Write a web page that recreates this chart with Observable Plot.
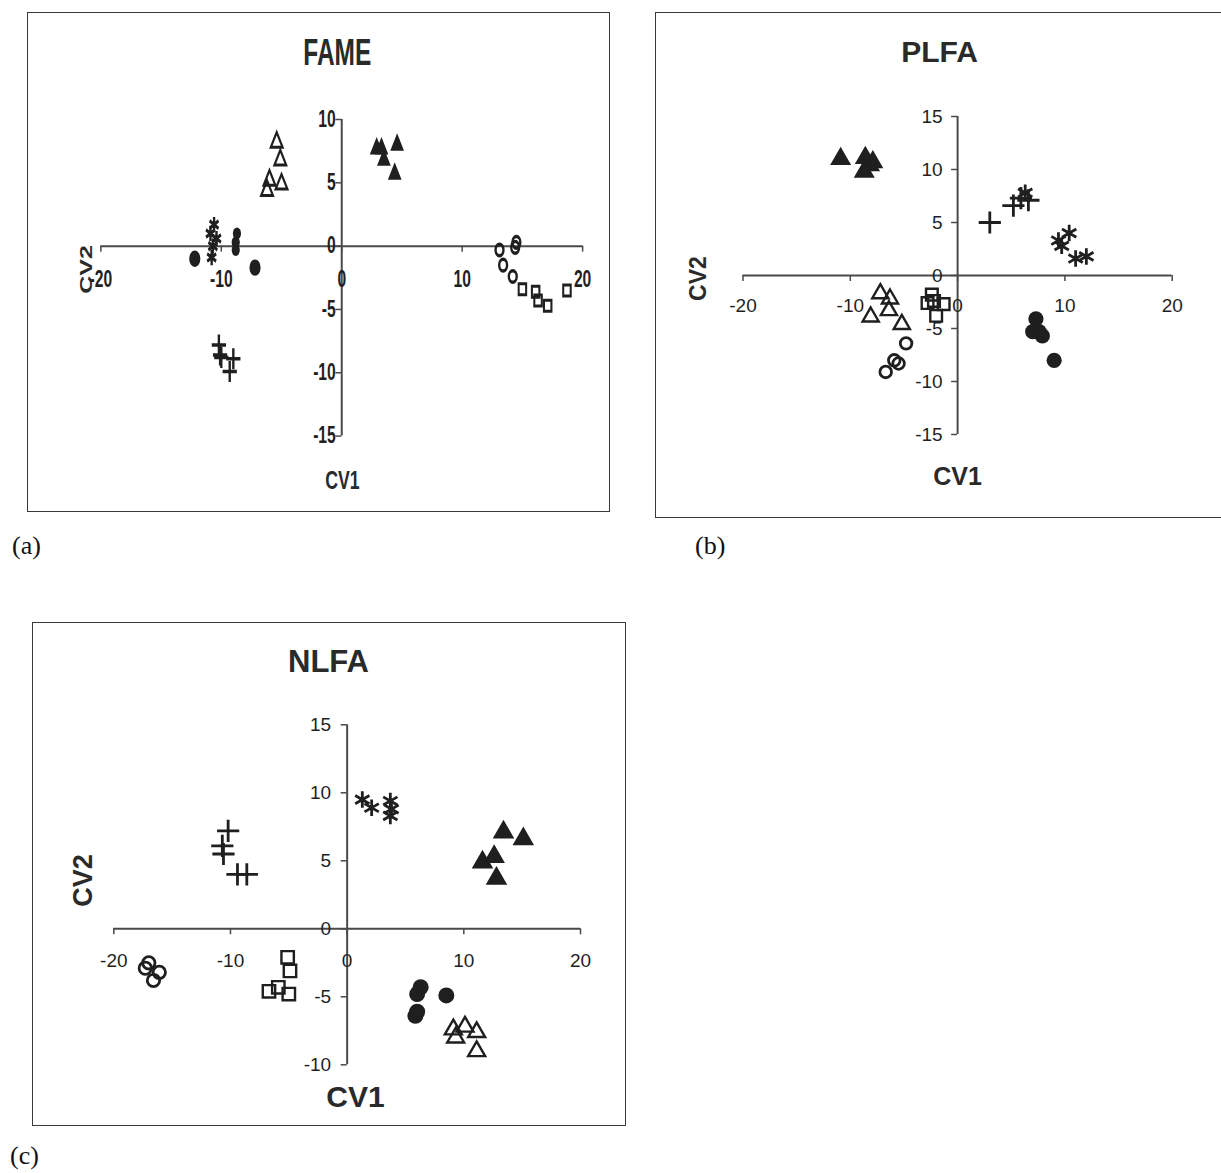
<!DOCTYPE html>
<html>
<head>
<meta charset="utf-8">
<script src="https://cdn.jsdelivr.net/npm/d3@7"></script>
<script src="https://cdn.jsdelivr.net/npm/@observablehq/plot@0.6"></script>
<style>
  html, body { margin: 0; padding: 0; background: #fff; }
  body { position: relative; width: 1221px; height: 1173px; overflow: hidden; }
  .tag { position: absolute; font-family: "Liberation Serif", "Times New Roman", serif; font-size: 26px; color: #111; line-height: 1; }
</style>
</head>
<body>
<div class="tag" style="left:12px;top:533px">(a)</div>
<div class="tag" style="left:695px;top:533px">(b)</div>
<div class="tag" style="left:10px;top:1143px">(c)</div>
<script>
// Canonical variate scores (CV1, CV2) per treatment group.

// ---- FAME ----
const fameOpenTri    = [[-5.4, 8.2], [-5.1, 6.8], [-6.0, 5.2], [-5.0, 4.9], [-6.2, 4.4]];
const fameFilledTri  = [[2.9, 7.7], [3.3, 7.7], [3.5, 6.8], [4.6, 8.0], [4.4, 5.7]];
const fameStar       = [[-10.6, 1.7], [-10.9, 1.0], [-10.4, 0.6], [-10.7, 0.0], [-10.8, -0.9]];
const fameFilledCirc = [[-12.2, -1.0], [-7.2, -1.7], [-8.7, 1.0], [-8.8, 0.3], [-8.8, -0.3]];
const famePlus       = [[-10.2, -7.8], [-10.1, -8.6], [-10.0, -8.8], [-9.0, -8.9], [-9.3, -9.9]];
const fameOpenCirc   = [[13.1, -0.3], [14.5, 0.3], [14.4, -0.1], [13.4, -1.5], [14.2, -2.4]];
const fameOpenSq     = [[15.0, -3.4], [16.1, -3.6], [16.3, -4.3], [17.1, -4.7], [18.7, -3.5]];

// ---- PLFA ----
const plfaFilledTri  = [[-10.9, 11.0], [-8.6, 11.1], [-7.9, 10.7], [-8.7, 9.8], [-8.2, 10.4]];
const plfaOpenTri    = [[-7.2, -1.7], [-6.3, -2.2], [-6.4, -3.3], [-8.1, -3.9], [-5.2, -4.6]];
const plfaOpenCirc   = [[-4.8, -6.4], [-5.9, -8.0], [-5.5, -8.3], [-6.7, -9.1]];
const plfaFilledCirc = [[7.3, -4.1], [7.0, -5.3], [7.9, -5.7], [7.6, -5.3], [9.0, -8.0]];
const plfaOpenSq     = [[-2.4, -1.8], [-2.8, -2.6], [-1.3, -2.7], [-2.0, -3.8], [-2.2, -2.4]];
const plfaPlus       = [[3.0, 5.0], [5.2, 6.6], [5.9, 7.3], [6.6, 7.1]];
const plfaStar       = [[6.3, 7.8], [9.4, 3.3], [10.4, 4.0], [9.7, 2.8], [11.0, 1.6], [12.0, 1.8]];

// ---- NLFA ----
const nlfaPlus       = [[-10.2, 7.2], [-10.7, 6.1], [-10.6, 5.5], [-9.4, 4.0], [-8.6, 4.0]];
const nlfaOpenCirc   = [[-17.0, -2.5], [-17.3, -2.9], [-16.1, -3.2], [-16.6, -3.8]];
const nlfaOpenSq     = [[-5.1, -2.1], [-4.9, -3.1], [-6.7, -4.6], [-5.9, -4.3], [-5.0, -4.8]];
const nlfaStar       = [[1.3, 9.5], [2.1, 8.9], [3.7, 9.4], [3.7, 8.3], [3.8, 8.8]];
const nlfaFilledTri  = [[13.4, 7.1], [15.1, 6.6], [11.6, 4.9], [12.6, 5.3], [12.8, 3.7]];
const nlfaFilledCirc = [[6.3, -4.3], [6.0, -4.8], [5.85, -6.4], [8.5, -4.9], [6.0, -6.1]];
const nlfaOpenTri    = [[9.1, -7.4], [10.1, -7.2], [11.1, -7.6], [9.3, -8.0], [11.1, -9.0]];

// Axis ticks
const xTicks = [-20, -10, 0, 10, 20];
const fameYTicks = [-15, -10, -5, 0, 5, 10];
const plfaYTicks = [-15, -10, -5, 0, 5, 10, 15];
const nlfaYTicks = [-10, -5, 0, 5, 10, 15];

const INK = "#1f1f1f";
const AXIS = "#4a4a4a";
const FONT = "'Liberation Sans', Arial, Helvetica, sans-serif";

// Marker styles by group kind (stroke widths are multiplied per panel)
const STYLE = {
  filledTri:  {symbol: "triangle", fill: INK, stroke: "none", sw: 0},
  openTri:    {symbol: "triangle", fill: "none", stroke: INK, sw: 2.4},
  filledCirc: {symbol: "circle", fill: INK, stroke: "none", sw: 0},
  openCirc:   {symbol: "circle", fill: "none", stroke: INK, sw: 2.8},
  openSq:     {symbol: "square", fill: "none", stroke: INK, sw: 2.4},
  plus:       {symbol: "plus", fill: "none", stroke: INK, sw: 2.8},
  star:       {symbol: "asterisk", fill: "none", stroke: INK, sw: 2.8}
};

function drawPanel(cfg) {
  const {frame, sx, xPx, yPx, yDomain, yTicks, series, t} = cfg;
  const W = frame.w / sx, H = frame.h;
  const marginLeft = (xPx[0] - frame.left) / sx;
  const marginRight = (frame.left + frame.w - xPx[1]) / sx;
  const marginTop = yPx[0] - frame.top;
  const marginBottom = frame.top + frame.h - yPx[1];
  const [yMin, yMax] = yDomain;
  const pxPerY = (yPx[1] - yPx[0]) / (yMax - yMin);
  const pxPerX = (xPx[1] - xPx[0]) / 40;
  const cx = (xPx[0] + xPx[1]) / 2;
  const cy = (yPx[0] + yPx[1]) / 2;
  const tickLen = 6;
  const swScale = cfg.swScale || 1;

  const marks = [
    Plot.ruleY([0], {x1: -20, x2: 20, stroke: AXIS, strokeWidth: 2}),
    Plot.ruleX([0], {y1: yMin, y2: yMax, stroke: AXIS, strokeWidth: 2 / sx}),
    Plot.ruleX(xTicks, {y1: 0, y2: -tickLen / pxPerY, stroke: AXIS, strokeWidth: 1.5 / sx}),
    Plot.ruleY(yTicks, {x1: 0, x2: -tickLen / pxPerX, stroke: AXIS, strokeWidth: 1.5}),
    Plot.text(xTicks, {x: d => d, y: 0, text: d => String(d), dy: t.xLabelDy,
      fontSize: t.tickSize, fontWeight: t.tickWeight || "normal", fill: INK, fontFamily: FONT}),
    Plot.text(yTicks, {x: 0, y: d => d, text: d => String(d), textAnchor: "end",
      dx: -t.yLabelGap / sx, fontSize: t.tickSize, fontWeight: t.tickWeight || "normal", fill: INK, fontFamily: FONT})
  ];

  for (const [data, kind, r] of series) {
    const {sw, ...style} = STYLE[kind];
    marks.push(Plot.dot(data, {x: d => d[0], y: d => d[1], r, ...style, strokeWidth: sw * swScale}));
  }

  const label = {fontWeight: "bold", fill: "#2a2a2a", fontFamily: FONT, textAnchor: "middle", lineAnchor: "middle"};
  marks.push(
    Plot.text([t.title], {text: d => d, frameAnchor: "top", dx: (t.titleX - cx) / sx, dy: t.titleY - yPx[0],
      fontSize: t.titleSize, ...label}),
    Plot.text(["CV1"], {text: d => d, frameAnchor: "bottom", dx: (t.xTitleX - cx) / sx, dy: t.xTitleY - yPx[1],
      fontSize: t.xTitleSize, ...label}),
    Plot.text(["CV2"], {text: d => d, frameAnchor: "left", rotate: -90, dx: (t.yTitleX - xPx[0]) / sx, dy: t.yTitleY - cy,
      fontSize: t.yTitleSize, ...label})
  );

  const svg = Plot.plot({
    width: W, height: H,
    marginLeft, marginRight, marginTop, marginBottom,
    x: {domain: [-20, 20], axis: null},
    y: {domain: yDomain, axis: null},
    style: {background: "transparent", fontFamily: FONT, overflow: "visible"},
    marks
  });
  svg.style.maxWidth = "none";
  svg.style.display = "block";

  const wrap = document.createElement("div");
  wrap.style.cssText = `position:absolute;left:${frame.left}px;top:${frame.top}px;width:${frame.w}px;height:${frame.h}px;overflow:hidden;`;
  const inner = document.createElement("div");
  inner.style.cssText = `width:${W}px;height:${H}px;transform:scaleX(${sx});transform-origin:0 0;`;
  inner.appendChild(svg);
  wrap.appendChild(inner);
  const border = document.createElement("div");
  border.style.cssText = "position:absolute;left:0;top:0;right:0;bottom:0;border:1.5px solid #3a3a3a;pointer-events:none;";
  wrap.appendChild(border);
  document.body.appendChild(wrap);
}

// (a) FAME — drawn horizontally condensed
drawPanel({
  frame: {left: 27, top: 12, w: 583, h: 500},
  sx: 0.68, swScale: 1.25,
  xPx: [100.5, 582.3], yPx: [119, 435.6], yDomain: [-15, 10], yTicks: fameYTicks,
  series: [
    [fameOpenTri, "openTri", 6.4],
    [fameFilledTri, "filledTri", 7.5],
    [fameStar, "star", 7.2],
    [fameFilledCirc.slice(0, 2), "filledCirc", 8.2],
    [fameFilledCirc.slice(2), "filledCirc", 6.0],
    [famePlus, "plus", 6.8],
    [fameOpenCirc, "openCirc", 5.8],
    [fameOpenSq, "openSq", 6.2]
  ],
  t: {title: "FAME", titleX: 337, titleY: 53, titleSize: 36,
      xTitleX: 342, xTitleY: 480, xTitleSize: 26,
      yTitleX: 86, yTitleY: 269, yTitleSize: 25,
      tickSize: 23, tickWeight: "bold", xLabelDy: 34, yLabelGap: 6}
});

// (b) PLFA
drawPanel({
  frame: {left: 655, top: 12, w: 580, h: 506},
  sx: 1,
  xPx: [742.5, 1171.7], yPx: [116, 434], yDomain: [-15, 15], yTicks: plfaYTicks,
  series: [
    [plfaFilledTri, "filledTri", 7.8],
    [plfaOpenTri, "openTri", 6.0],
    [plfaOpenCirc, "openCirc", 5.8],
    [plfaFilledCirc, "filledCirc", 7.6],
    [plfaOpenSq, "openSq", 6.6],
    [plfaPlus, "plus", 7.2],
    [plfaStar, "star", 7.8]
  ],
  t: {title: "PLFA", titleX: 939, titleY: 52, titleSize: 30,
      xTitleX: 957, xTitleY: 476, xTitleSize: 25,
      yTitleX: 698, yTitleY: 278, yTitleSize: 23,
      tickSize: 19, xLabelDy: 30, yLabelGap: 15}
});

// (c) NLFA
drawPanel({
  frame: {left: 32, top: 622, w: 594, h: 504},
  sx: 1,
  xPx: [113.3, 580], yPx: [724.3, 1064.3], yDomain: [-10, 15], yTicks: nlfaYTicks,
  series: [
    [nlfaPlus, "plus", 7.2],
    [nlfaOpenCirc, "openCirc", 6.2],
    [nlfaOpenSq, "openSq", 7.0],
    [nlfaStar, "star", 7.8],
    [nlfaFilledTri, "filledTri", 8.0],
    [nlfaFilledCirc, "filledCirc", 8.0],
    [nlfaOpenTri, "openTri", 6.3]
  ],
  t: {title: "NLFA", titleX: 328, titleY: 662, titleSize: 31,
      xTitleX: 355, xTitleY: 1097, xTitleSize: 30,
      yTitleX: 83, yTitleY: 880, yTitleSize: 27,
      tickSize: 19, xLabelDy: 32, yLabelGap: 16}
});
</script>
</body>
</html>
